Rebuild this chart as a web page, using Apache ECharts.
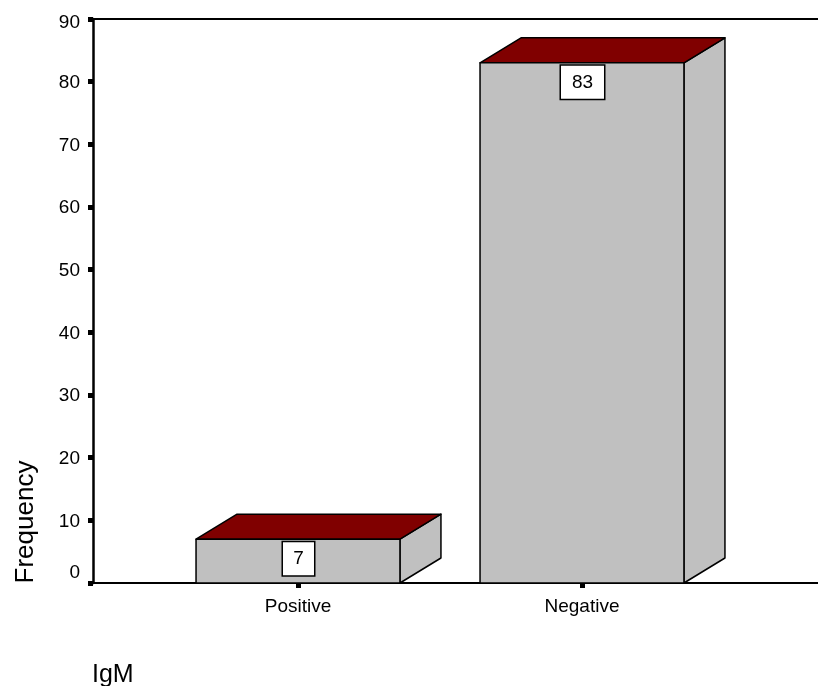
<!DOCTYPE html>
<html>
<head>
<meta charset="utf-8">
<style>html,body{margin:0;padding:0;background:#fff}#c{width:818px;height:686px}</style>
<script src="https://cdn.jsdelivr.net/npm/echarts@6/dist/echarts.min.js"></script>
</head>
<body>
<div id="c"></div>
<script>
var categories = ['Positive', 'Negative'];
var frequencies = [7, 83];
var yTicks = [0, 10, 20, 30, 40, 50, 60, 70, 80, 90];
var FONT = '"Liberation Sans", Arial, sans-serif';
var xMin = -0.7218, xMax = 1.831;
var barWidthRatio = 0.718, depthX = 41, depthY = 25;

var chart = echarts.init(document.getElementById('c'), null, {renderer: 'canvas'});

function renderBar(params, api) {
  var i = api.value(0), v = api.value(1);
  var top = api.coord([i, v]), base = api.coord([i, 0]);
  var half = api.size([1, 0])[0] * barWidthRatio / 2;
  var l = top[0] - half, r = top[0] + half, t = top[1], b = base[1];
  var line = {stroke: '#000', lineWidth: 1.5, lineJoin: 'round'};
  function poly(points, fill) {
    return {type: 'polygon', shape: {points: points}, style: Object.assign({fill: fill}, line)};
  }
  return {
    type: 'group',
    children: [
      poly([[r, t], [r + depthX, t - depthY], [r + depthX, b - depthY], [r, b]], '#c0c0c0'),
      poly([[l, t], [l + depthX, t - depthY], [r + depthX, t - depthY], [r, t]], '#800000'),
      poly([[l, t], [r, t], [r, b], [l, b]], '#c0c0c0'),
      {
        type: 'text',
        x: top[0] + 0.5, y: t + 19.5,
        style: {
          text: String(v), font: '19px ' + FONT, fill: '#000',
          align: 'center', verticalAlign: 'middle',
          backgroundColor: '#fff', borderColor: '#000', borderWidth: 1.5,
          width: v < 10 ? 31 : 43, height: 33, lineHeight: 33
        }
      }
    ]
  };
}

var tickRich = {fontFamily: FONT, fontSize: 19, color: '#000'};

chart.setOption({
  animation: false,
  backgroundColor: '#fff',
  title: {
    text: 'IgM', left: 87, top: 658,
    textStyle: {fontFamily: FONT, fontSize: 25, fontWeight: 'normal', color: '#000'}
  },
  graphic: [{
    type: 'text', x: 26, y: 522, rotation: Math.PI / 2,
    style: {text: 'Frequency', font: '26px ' + FONT, fill: '#000', align: 'center', verticalAlign: 'middle'}
  }],
  grid: {left: 93, right: 0, top: 19, height: 564, outerBoundsMode: 'none'},
  xAxis: [{
    type: 'value', position: 'bottom', min: xMin, max: xMax,
    splitLine: {show: false},
    axisLine: {show: true, onZero: false, lineStyle: {color: '#000', width: 2}},
    axisTick: {show: true, length: 5, customValues: [0, 1], lineStyle: {color: '#000', width: 5}},
    axisLabel: {
      show: true, customValues: [0, 1], margin: 14,
      fontFamily: FONT, fontSize: 19, color: '#000',
      formatter: function (v) { return categories[v]; }
    }
  }, {
    type: 'value', position: 'top', min: xMin, max: xMax,
    splitLine: {show: false},
    axisLine: {show: true, onZero: false, lineStyle: {color: '#000', width: 2}},
    axisTick: {show: false}, axisLabel: {show: false}
  }],
  yAxis: {
    type: 'value', min: 0, max: 90, interval: 10,
    splitLine: {show: false},
    axisLine: {show: true, onZero: false, lineStyle: {color: '#000', width: 2.5}},
    axisTick: {show: true, length: 5, lineStyle: {color: '#000', width: 5}},
    axisLabel: {
      margin: 13, fontFamily: FONT, fontSize: 19, color: '#000',
      customValues: yTicks,
      formatter: function (v) {
        if (v === 0) return '{zero|0}';
        if (v === 90) return '{top|90}';
        return '{mid|' + v + '}';
      },
      rich: {
        zero: Object.assign({padding: [0, 0, 20, 0]}, tickRich),
        top: Object.assign({padding: [8, 0, 0, 0]}, tickRich),
        mid: Object.assign({padding: [2, 0, 0, 0]}, tickRich)
      }
    }
  },
  series: [{
    type: 'custom',
    xAxisIndex: 0,
    clip: false,
    renderItem: renderBar,
    encode: {x: 0, y: 1},
    data: frequencies.map(function (v, i) { return [i, v]; })
  }]
});
</script>
</body>
</html>
